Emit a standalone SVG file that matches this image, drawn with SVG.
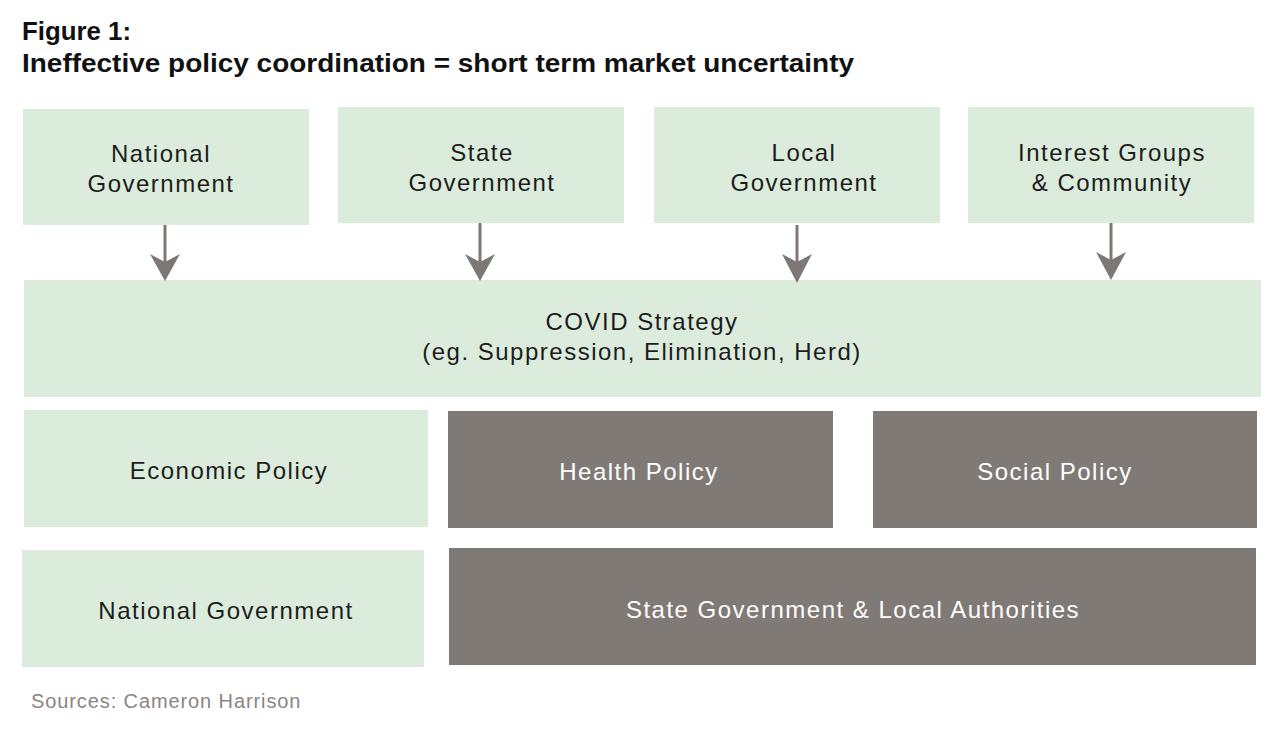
<svg xmlns="http://www.w3.org/2000/svg" width="1280" height="732" viewBox="0 0 1280 732">
<style>
.bg{fill:#ffffff}
.g{fill:#dcecdc}
.d{fill:#807a76}
.t{font-family:"Liberation Sans",Arial,sans-serif;font-size:24px;letter-spacing:1.5px;fill:#1c1c1c;text-anchor:middle}
.w{fill:#ffffff}
.h{font-family:"Liberation Sans",Arial,sans-serif;font-size:26px;font-weight:bold;fill:#111111}
.s{font-family:"Liberation Sans",Arial,sans-serif;font-size:20px;letter-spacing:0.9px;fill:#8a8583}
.c line{stroke:#7d7875;stroke-width:3}
.c path{fill:#7d7875}
</style>
<rect class="bg" x="0" y="0" width="1280" height="732"/>
<g id="title">
<text class="h" x="22" y="40" textLength="109" lengthAdjust="spacingAndGlyphs">Figure 1:</text>
<text class="h" x="22" y="72" textLength="832" lengthAdjust="spacingAndGlyphs">Ineffective policy coordination = short term market uncertainty</text>
</g>
<g id="n-national">
<rect class="g" x="23" y="109" width="286" height="116"/>
<text class="t" x="161" y="162">National</text>
<text class="t" x="161" y="192">Government</text>
</g>
<g id="n-state">
<rect class="g" x="338" y="107" width="286" height="116"/>
<text class="t" x="482" y="161">State</text>
<text class="t" x="482" y="191">Government</text>
</g>
<g id="n-local">
<rect class="g" x="654" y="107" width="286" height="116"/>
<text class="t" x="804" y="161">Local</text>
<text class="t" x="804" y="191">Government</text>
</g>
<g id="n-interest">
<rect class="g" x="968" y="107" width="286" height="116"/>
<text class="t" x="1112" y="161">Interest Groups</text>
<text class="t" x="1112" y="191">&amp; Community</text>
</g>
<g id="n-covid">
<rect class="g" x="24" y="280" width="1237" height="117"/>
<text class="t" x="642" y="330">COVID Strategy</text>
<text class="t" x="642" y="360">(eg. Suppression, Elimination, Herd)</text>
</g>
<g id="n-economic">
<rect class="g" x="24" y="410" width="404" height="117"/>
<text class="t" x="229" y="479">Economic Policy</text>
</g>
<g id="n-health">
<rect class="d" x="448" y="411" width="385" height="117"/>
<text class="t w" x="639" y="480">Health Policy</text>
</g>
<g id="n-social">
<rect class="d" x="873" y="411" width="384" height="117"/>
<text class="t w" x="1055" y="480">Social Policy</text>
</g>
<g id="n-natgov">
<rect class="g" x="22" y="550" width="402" height="117"/>
<text class="t" x="226" y="619">National Government</text>
</g>
<g id="n-statelocal">
<rect class="d" x="449" y="548" width="807" height="117"/>
<text class="t w" x="853" y="618">State Government &amp; Local Authorities</text>
</g>
<g id="connectors" class="c">
<line x1="165" y1="225" x2="165" y2="262"/>
<path d="M150,254 L165,262 L180,254 L165,281 Z"/>
<line x1="480" y1="223" x2="480" y2="262"/>
<path d="M465,254 L480,262 L495,254 L480,281 Z"/>
<line x1="797" y1="225" x2="797" y2="262"/>
<path d="M782,254 L797,262 L812,254 L797,283 Z"/>
<line x1="1111" y1="223" x2="1111" y2="262"/>
<path d="M1096,252 L1111,260 L1126,252 L1111,280 Z"/>
</g>
<text class="s" x="31" y="708">Sources: Cameron Harrison</text>
</svg>
